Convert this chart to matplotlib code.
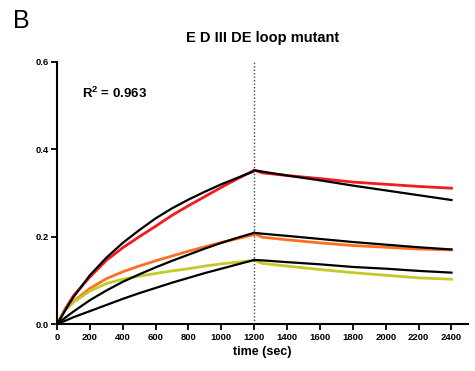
import matplotlib
matplotlib.use("Agg")
import matplotlib.pyplot as plt

plt.rcParams['font.family'] = ['Liberation Sans', 'DejaVu Sans']
plt.rcParams['mathtext.fontset'] = 'custom'
plt.rcParams['mathtext.rm'] = 'Liberation Sans'
plt.rcParams['mathtext.bf'] = 'Liberation Sans:bold'

# Association phase (0 - 1200 s)
t_assoc = [0, 50, 100, 200, 300, 400, 500, 600, 700, 800, 900, 1000, 1100, 1200]
red_assoc = [0.0, 0.035, 0.065, 0.108, 0.146, 0.175, 0.200, 0.224, 0.249, 0.271, 0.292, 0.313, 0.333, 0.352]
orange_assoc = [0.0, 0.032, 0.052, 0.082, 0.104, 0.120, 0.133, 0.145, 0.156, 0.167, 0.177, 0.187, 0.196, 0.205]
yellow_assoc = [0.0, 0.032, 0.050, 0.076, 0.093, 0.103, 0.110, 0.116, 0.122, 0.127, 0.133, 0.138, 0.142, 0.146]
fit_red_assoc = [0.0, 0.032, 0.062, 0.112, 0.152, 0.186, 0.215, 0.242, 0.265, 0.285, 0.303, 0.320, 0.335, 0.350]
fit_orange_assoc = [0.0, 0.015, 0.029, 0.055, 0.077, 0.097, 0.114, 0.130, 0.145, 0.159, 0.173, 0.186, 0.198, 0.209]
fit_yellow_assoc = [0.0, 0.008, 0.016, 0.030, 0.044, 0.058, 0.071, 0.083, 0.095, 0.106, 0.117, 0.127, 0.137, 0.147]

# Dissociation phase (1200 - 2400 s)
t_dissoc = [1200, 1250, 1400, 1600, 1800, 2000, 2200, 2400]
red_dissoc = [0.352, 0.346, 0.340, 0.333, 0.325, 0.320, 0.315, 0.311]
orange_dissoc = [0.207, 0.199, 0.193, 0.186, 0.180, 0.176, 0.172, 0.170]
yellow_dissoc = [0.146, 0.139, 0.133, 0.125, 0.118, 0.112, 0.106, 0.103]
fit_red_dissoc = [0.352, 0.349, 0.340, 0.329, 0.317, 0.306, 0.295, 0.284]
fit_orange_dissoc = [0.209, 0.207, 0.202, 0.195, 0.188, 0.182, 0.176, 0.171]
fit_yellow_dissoc = [0.147, 0.146, 0.142, 0.137, 0.131, 0.127, 0.122, 0.118]

x_ticks = [0, 200, 400, 600, 800, 1000, 1200, 1400, 1600, 1800, 2000, 2200, 2400]
y_ticks = [0.0, 0.2, 0.4, 0.6]

red = "#f41a1f"
orange = "#ff6f1e"
yellow = "#c5ca28"

fig = plt.figure(figsize=(4.75, 3.71), dpi=100)
ax = fig.add_axes([0.12, 0.126, 0.865, 0.7075])

# Measured curves
ax.plot(t_assoc + t_dissoc, red_assoc + red_dissoc, color=red, lw=2.0, clip_on=False)
ax.plot(t_assoc + t_dissoc, orange_assoc + orange_dissoc, color=orange, lw=2.0, clip_on=False)
ax.plot(t_assoc + t_dissoc, yellow_assoc + yellow_dissoc, color=yellow, lw=2.0, clip_on=False)

# Fitted curves
for fa, fd in [(fit_red_assoc, fit_red_dissoc), (fit_orange_assoc, fit_orange_dissoc),
               (fit_yellow_assoc, fit_yellow_dissoc)]:
    ax.plot(t_assoc, fa, color="black", lw=1.6, clip_on=False)
    ax.plot(t_dissoc, fd, color="black", lw=1.6, clip_on=False)

ax.axvline(1200, color="#444444", lw=1.0, ls=(0, (1, 1.5)))

ax.set_xlim(0, 2500)
ax.set_ylim(0, 0.6)
ax.set_xticks(x_ticks)
ax.set_yticks(y_ticks)
ax.set_yticklabels(["0.0", "0.2", "0.4", "0.6"])
for s in ["top", "right"]:
    ax.spines[s].set_visible(False)
for s in ["left", "bottom"]:
    ax.spines[s].set_linewidth(1.5)
ax.tick_params(direction="out", length=4, width=1.3, labelsize=6.8, pad=2)
for lab in ax.get_xticklabels() + ax.get_yticklabels():
    lab.set_fontweight("bold")

ax.set_xlabel("time (sec)", fontsize=9, fontweight="bold", labelpad=3)
ax.set_title("E D III DE loop mutant", fontsize=10.5, fontweight="bold", pad=14)
ax.text(150, 0.527, r"R$^{\mathbf{2}}$ = 0.963", fontsize=9.5, fontweight="bold",
        ha="left", va="center")

fig.text(0.027, 0.975, "B", fontsize=18, ha="left", va="top")

plt.savefig("out.png", dpi=100)
